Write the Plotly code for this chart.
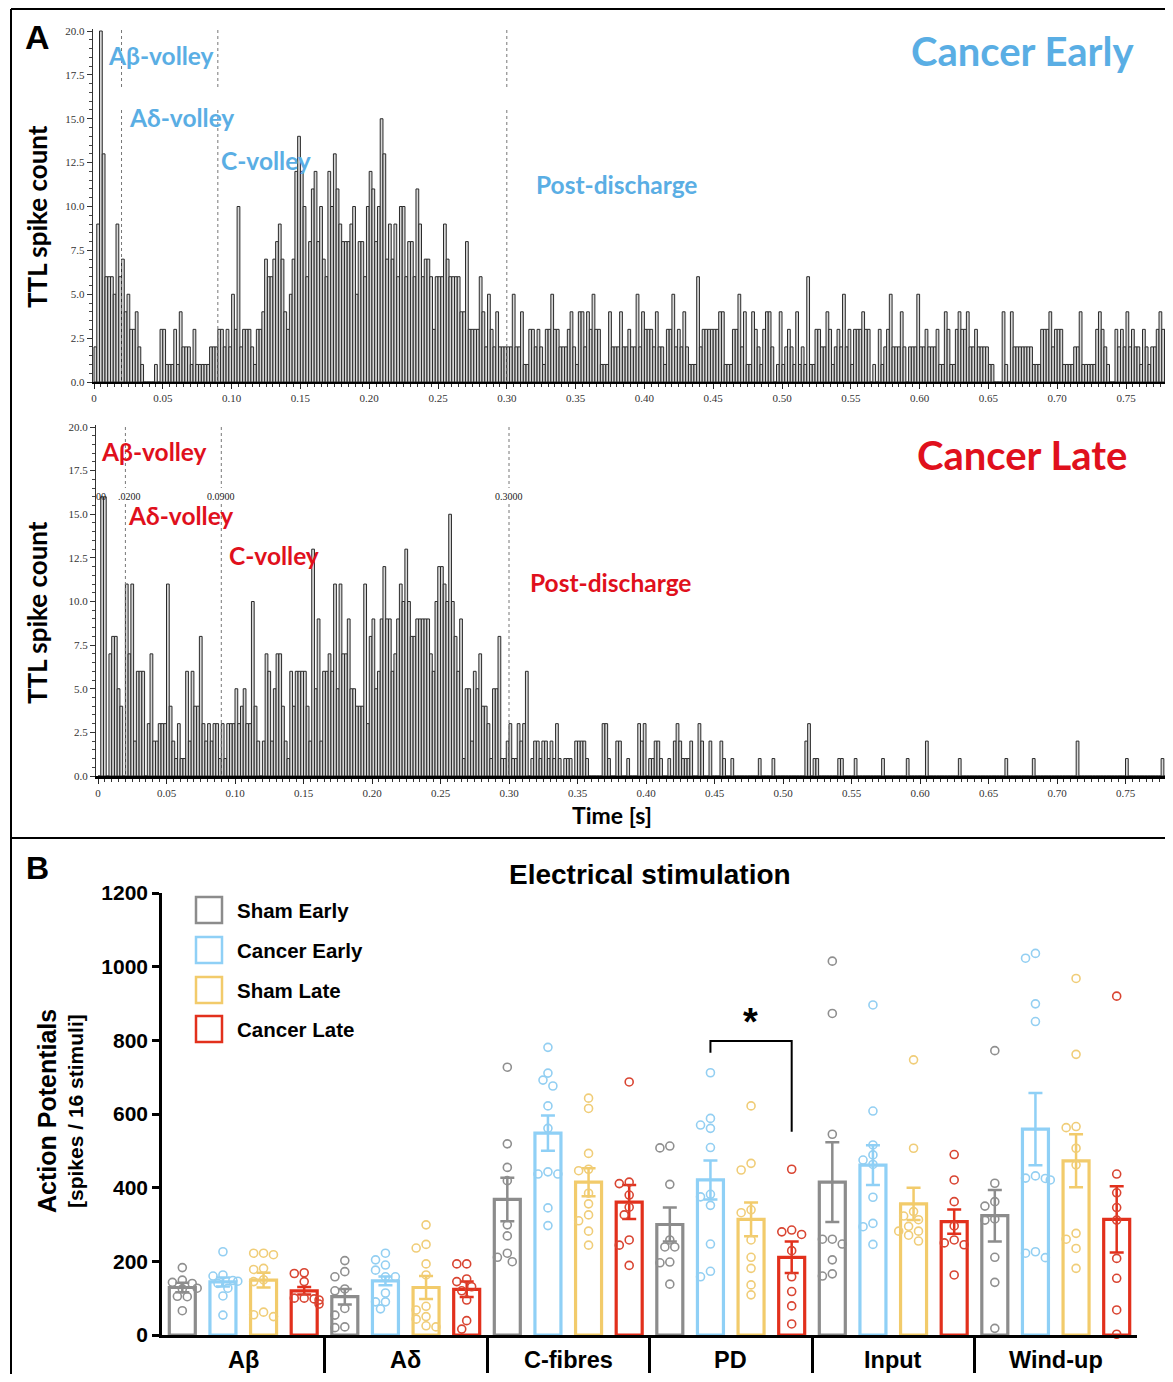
import plotly.graph_objects as go

W, H = 1173, 1382
PAGE_OFFSET = 8  # default body margin of the html page
FIG_W, FIG_H = W - 2 * PAGE_OFFSET, H - 2 * PAGE_OFFSET
BIN_WIDTH = 0.002

# ---------------- Panel A data: TTL spike counts per 2 ms bin ----------------
cancer_early_counts = (
    [2, 9, 20, 13, 6, 6, 6, 5, 9, 6, 7, 4, 5, 3, 3, 4, 2, 1, 0, 0, 0, 0, 1, 0, 3]
    + [3, 1, 1, 1, 3, 1, 4, 2, 2, 2, 1, 3, 1, 1, 1, 1, 1, 2, 2, 2, 3, 3, 2, 3, 2]
    + [5, 3, 10, 2, 3, 3, 3, 2, 1, 3, 3, 4, 7, 6, 6, 7, 8, 9, 7, 4, 3, 5, 7, 12, 14]
    + [12, 10, 6, 8, 11, 12, 8, 10, 7, 6, 12, 10, 13, 11, 9, 8, 8, 8, 9, 10, 5, 8, 8, 6, 10]
    + [12, 11, 8, 10, 15, 13, 7, 9, 7, 9, 6, 10, 10, 6, 8, 8, 6, 11, 9, 6, 7, 7, 6, 3, 6]
    + [6, 6, 9, 7, 6, 6, 6, 6, 4, 4, 8, 3, 3, 3, 3, 6, 4, 2, 5, 3, 2, 4, 2, 2, 2]
    + [2, 2, 5, 2, 2, 4, 1, 1, 3, 3, 2, 3, 2, 1, 3, 3, 5, 3, 3, 2, 2, 2, 3, 4, 2]
    + [1, 4, 4, 2, 4, 3, 5, 3, 3, 1, 1, 1, 4, 2, 2, 2, 4, 2, 2, 3, 2, 2, 5, 2, 4]
    + [3, 3, 3, 2, 4, 2, 2, 1, 3, 3, 5, 2, 3, 2, 4, 2, 1, 1, 1, 6, 2, 3, 3, 3, 3]
    + [3, 3, 4, 4, 1, 1, 1, 3, 3, 5, 2, 4, 1, 1, 4, 3, 2, 1, 3, 4, 4, 2, 0, 1, 4]
    + [1, 2, 3, 2, 1, 4, 1, 2, 1, 6, 1, 1, 3, 3, 2, 2, 4, 3, 1, 2, 3, 2, 5, 2, 3]
    + [1, 3, 3, 3, 4, 3, 3, 0, 1, 0, 3, 1, 2, 3, 5, 2, 2, 2, 4, 2, 0, 2, 2, 2, 5]
    + [2, 2, 3, 2, 2, 2, 3, 1, 1, 4, 3, 1, 1, 3, 4, 3, 3, 4, 2, 2, 3, 2, 2, 2, 2]
    + [1, 1, 0, 0, 0, 4, 1, 0, 4, 2, 2, 2, 2, 2, 2, 2, 1, 1, 1, 3, 3, 3, 4, 2, 3]
    + [3, 3, 1, 1, 1, 1, 2, 2, 4, 1, 1, 1, 1, 1, 3, 4, 3, 2, 1, 0, 0, 3, 2, 3, 2]
    + [4, 2, 3, 2, 2, 1, 3, 2, 1, 2, 2, 3, 4, 3, 3, 3, 2]
)

cancer_late_counts = (
    [0, 16, 16, 0, 7, 8, 8, 5, 4, 0, 11, 7, 11, 2, 6, 6, 6, 0, 3, 7, 2, 2, 3, 3, 3]
    + [11, 4, 2, 1, 3, 1, 1, 6, 2, 6, 4, 4, 8, 3, 2, 3, 2, 3, 3, 1, 3, 1, 3, 3, 3]
    + [5, 3, 4, 5, 3, 3, 10, 4, 2, 0, 2, 7, 6, 2, 5, 7, 7, 4, 2, 1, 6, 4, 6, 6, 6]
    + [6, 4, 2, 13, 5, 9, 2, 6, 6, 7, 6, 11, 5, 11, 7, 7, 9, 5, 5, 4, 4, 4, 11, 3, 8]
    + [9, 5, 6, 9, 12, 9, 9, 6, 7, 9, 11, 10, 13, 10, 8, 8, 9, 9, 9, 9, 9, 7, 6, 10, 12]
    + [12, 11, 10, 15, 10, 8, 6, 9, 1, 5, 5, 2, 6, 5, 7, 4, 4, 3, 1, 5, 5, 8, 1, 1, 2]
    + [3, 1, 1, 3, 2, 3, 6, 0, 1, 2, 2, 1, 2, 2, 1, 2, 1, 3, 1, 0, 1, 1, 1, 0, 2]
    + [2, 2, 2, 1, 0, 0, 0, 0, 0, 3, 3, 1, 0, 0, 2, 2, 0, 0, 1, 0, 0, 0, 3, 2, 3]
    + [0, 1, 1, 2, 2, 1, 0, 0, 1, 0, 2, 3, 2, 1, 1, 1, 2, 0, 0, 3, 2, 0, 0, 2, 0]
    + [0, 0, 2, 1, 0, 0, 1, 0, 0, 0, 0, 0, 0, 0, 0, 0, 1, 0, 0, 0, 0, 1, 0, 0, 0]
    + [0, 0, 0, 0, 0, 0, 0, 0, 2, 3, 0, 1, 1, 0, 0, 0, 0, 0, 0, 0, 1, 1, 0, 0, 0]
    + [0, 1, 0, 0, 0, 0, 0, 0, 0, 0, 0, 1, 0, 0, 0, 0, 0, 0, 0, 0, 1, 0, 0, 0, 0]
    + [0, 0, 2, 0, 0, 0, 0, 0, 0, 0, 0, 0, 0, 0, 1, 0, 0, 0, 0, 0, 0, 0, 0, 0, 0]
    + [0, 0, 0, 0, 0, 0, 1, 0, 0, 0, 0, 0, 0, 0, 0, 0, 1, 0, 0, 0, 0, 0, 0, 0, 0]
    + [0, 0, 0, 0, 0, 0, 0, 2, 0, 0, 0, 0, 0, 0, 0, 0, 0, 0, 0, 0, 0, 0, 0, 0, 0]
    + [1, 0, 0, 0, 0, 0, 0, 0, 0, 0, 0, 0, 0, 1, 0, 0, 0]
)

hist_xtick_vals = [0, 0.05, 0.10, 0.15, 0.20, 0.25, 0.30, 0.35, 0.40, 0.45, 0.50,
                   0.55, 0.60, 0.65, 0.70, 0.75]
hist_xtick_text = ["0", "0.05", "0.10", "0.15", "0.20", "0.25", "0.30", "0.35", "0.40",
                   "0.45", "0.50", "0.55", "0.60", "0.65", "0.70", "0.75"]
hist_ytick_vals = [0, 2.5, 5, 7.5, 10, 12.5, 15, 17.5, 20]
hist_ytick_text = ["0.0", "2.5", "5.0", "7.5", "10.0", "12.5", "15.0", "17.5", "20.0"]
window_bounds = [0.02, 0.09, 0.30]
window_bound_labels = [".0200", "0.0900", "0.3000"]

# ---------------- Panel B data ----------------
groups = ["Aβ", "Aδ", "C-fibres", "PD", "Input", "Wind-up"]
series_names = ["Sham Early", "Cancer Early", "Sham Late", "Cancer Late"]

sham_early_mean = [129, 104, 368, 300, 415, 324]
sham_early_sem = [13, 21, 59, 46, 108, 70]
cancer_early_mean = [144, 147, 548, 421, 461, 559]
cancer_early_sem = [12, 12, 48, 53, 54, 98]
sham_late_mean = [149, 129, 415, 314, 356, 473]
sham_late_sem = [20, 31, 38, 46, 44, 72]
cancer_late_mean = [120, 124, 361, 211, 308, 314]
cancer_late_sem = [10, 21, 46, 43, 33, 90]

sham_early_pts = [
    [183, 143, 140, 149, 127, 125, 105, 104, 66],
    [202, 172, 158, 125, 120, 72, 54, 22, 20],
    [727, 519, 455, 419, 299, 269, 222, 211, 199],
    [508, 513, 409, 258, 239, 239, 198, 196, 138],
    [1015, 873, 545, 260, 247, 260, 204, 160, 166],
    [772, 412, 362, 350, 315, 312, 211, 143, 18],
]
cancer_early_pts = [
    [226, 163, 160, 148, 146, 127, 106, 54, 140],
    [222, 204, 190, 176, 158, 158, 114, 90, 90, 71],
    [781, 711, 692, 676, 622, 561, 443, 437, 437, 345, 297],
    [712, 588, 570, 561, 509, 382, 375, 352, 247, 173, 158],
    [896, 608, 516, 489, 475, 463, 374, 303, 294, 246],
    [1036, 1023, 899, 851, 432, 426, 421, 425, 226, 210, 222],
]
sham_late_pts = [
    [222, 218, 222, 181, 178, 150, 145, 62, 50, 55],
    [299, 236, 246, 193, 163, 68, 78, 43, 50, 22, 25],
    [643, 615, 493, 450, 446, 385, 356, 326, 310, 282, 244],
    [622, 466, 448, 340, 332, 258, 211, 181, 136, 109],
    [747, 507, 335, 323, 313, 295, 282, 282, 271, 255],
    [968, 762, 563, 566, 507, 462, 276, 260, 235, 181],
]
cancer_late_pts = [
    [169, 167, 145, 100, 98, 100, 84, 95],
    [193, 193, 152, 145, 131, 95, 39, 16, 120],
    [687, 411, 415, 380, 347, 326, 258, 244, 189],
    [450, 285, 280, 273, 229, 158, 118, 79, 30],
    [490, 421, 362, 296, 258, 250, 245, 163],
    [920, 437, 386, 346, 312, 208, 154, 68, 2],
]
b_ytick_vals = [0, 200, 400, 600, 800, 1000, 1200]

# significance: PD, Cancer Early vs Cancer Late
sig_group = 3
sig_pair = (1, 3)
sig_top, sig_left_end, sig_right_end = 798, 766, 552

# ---------------- styling ----------------
bar_colors = ["#8c8c8c", "#8fd0f6", "#f2cb6b", "#e2301c"]
pt_colors = ["#8f8f8f", "#93cff2", "#f0cd78", "#d94431"]
blue_txt = "#5aaee4"
red_txt = "#e0101c"
SERIF = "Liberation Serif"
SANS = "Liberation Sans"
CAL = "Lato"


def px(x):
    # target-image pixel -> paper fraction (compensating the page body offset)
    return (x - PAGE_OFFSET) / FIG_W


def py(y):
    return 1 - (y - PAGE_OFFSET) / FIG_H


RIGHT_EDGE = PAGE_OFFSET + FIG_W  # last visible pixel column of the figure

fig = go.Figure()

# ---- histograms ----
for counts, xa, ya in [(cancer_early_counts, "x", "y"), (cancer_late_counts, "x2", "y2")]:
    centers = [(i + 0.5) * BIN_WIDTH for i in range(len(counts))]
    fig.add_trace(go.Bar(
        x=centers, y=counts, width=BIN_WIDTH, xaxis=xa, yaxis=ya,
        marker=dict(color="#d6d6d6", line=dict(color="#2a2a2a", width=1)),
        showlegend=False, hoverinfo="skip"))

# ---- panel B bars ----
means = [sham_early_mean, cancer_early_mean, sham_late_mean, cancer_late_mean]
sems = [sham_early_sem, cancer_early_sem, sham_late_sem, cancer_late_sem]
points = [sham_early_pts, cancer_early_pts, sham_late_pts, cancer_late_pts]
SLOT = 0.25
BAR_W = 0.16


def slot_x(g, k):
    return g + (k - 1.5) * SLOT


for k in range(4):
    xs = [slot_x(g, k) for g in range(len(groups))]
    fig.add_trace(go.Bar(
        x=xs, y=means[k], width=BAR_W, xaxis="x3", yaxis="y3",
        marker=dict(color="rgba(255,255,255,0)", line=dict(color=bar_colors[k], width=3.2)),
        error_y=dict(type="data", array=sems[k], color=bar_colors[k], thickness=2.5, width=7),
        showlegend=False, hoverinfo="skip"))

# beeswarm placement of individual points (pixel-space collision check)
PX_PER_X = (1137 - 162) / 6.0
PX_PER_Y = (1335 - 893) / 1200.0
DIAM = 9.0


def swarm(values, center):
    placed = []
    order = sorted(range(len(values)), key=lambda i: -values[i])
    res = [None] * len(values)
    step = DIAM / PX_PER_X * 0.55
    for i in order:
        v = values[i]
        x = center
        for m in [0, -1, 1, -2, 2, -3, 3]:
            x = center + m * step
            ok = True
            for (xp, vp) in placed:
                dx = (x - xp) * PX_PER_X
                dy = (v - vp) * PX_PER_Y
                if dx * dx + dy * dy < (DIAM - 0.5) ** 2:
                    ok = False
                    break
            if ok:
                break
        placed.append((x, v))
        res[i] = x
    return res


for k in range(4):
    xs, ys = [], []
    for g in range(len(groups)):
        vals = points[k][g]
        xs += swarm(vals, slot_x(g, k))
        ys += vals
    fig.add_trace(go.Scatter(
        x=xs, y=ys, mode="markers", xaxis="x3", yaxis="y3", cliponaxis=False,
        marker=dict(symbol="circle-open", size=8, color=pt_colors[k], line=dict(width=1.6)),
        showlegend=False, hoverinfo="skip"))

# significance bracket
xl = slot_x(sig_group, sig_pair[0])
xr = slot_x(sig_group, sig_pair[1])
fig.add_trace(go.Scatter(
    x=[xl, xl, xr, xr], y=[sig_left_end, sig_top, sig_top, sig_right_end],
    mode="lines", line=dict(color="black", width=2), xaxis="x3", yaxis="y3",
    showlegend=False, hoverinfo="skip"))

# ---------------- axes ----------------
tickfont_h = dict(family=SERIF, size=11, color="#333")
top_x0, top_scale = 94.0, 1376.0
bot_x0, bot_scale = 98.0, 1370.0
top_rng = [(92.6 - top_x0) / top_scale, (RIGHT_EDGE - top_x0) / top_scale]
bot_rng = [(96.0 - bot_x0) / bot_scale, (RIGHT_EDGE - bot_x0) / bot_scale]

common_hx = dict(tickvals=hist_xtick_vals, ticktext=hist_xtick_text, ticks="outside",
                 ticklen=5, tickwidth=1, tickcolor="#222", showline=True, linecolor="black",
                 linewidth=2, tickfont=tickfont_h, showgrid=False, zeroline=False,
                 automargin=False,
                 minor=dict(dtick=0.005, ticklen=3, ticks="outside", tickcolor="#333", tickwidth=1))
common_hy = dict(tickvals=hist_ytick_vals, ticktext=hist_ytick_text, ticks="outside",
                 ticklen=5, tickwidth=1, tickcolor="#333", showline=True, linecolor="#333",
                 linewidth=1, tickfont=tickfont_h, showgrid=False, zeroline=False,
                 automargin=False,
                 minor=dict(dtick=0.5, ticklen=3, ticks="outside", tickcolor="#444", tickwidth=1),
                 range=[0, 20.1])

fig.update_layout(
    width=FIG_W, height=FIG_H, margin=dict(l=0, r=0, t=0, b=0, autoexpand=False),
    paper_bgcolor="white", plot_bgcolor="white", barmode="overlay", showlegend=False,
    xaxis=dict(domain=[px(92.6), 1.0], range=top_rng, anchor="y", **common_hx),
    yaxis=dict(domain=[py(382), py(382 - 20.1 * 17.55)], anchor="x", **common_hy),
    xaxis2=dict(domain=[px(96.0), 1.0], range=bot_rng, anchor="y2",
                **{**common_hx, "linewidth": 2.5}),
    yaxis2=dict(domain=[py(776), py(776 - 20.1 * 17.45)], anchor="x2", **common_hy),
    xaxis3=dict(domain=[px(162), px(1137)], range=[-0.5, 5.5], anchor="y3",
                tickvals=[g + 0.5 for g in range(len(groups) - 1)], ticks="outside",
                ticklen=35, tickwidth=2.5, tickcolor="black", showticklabels=False,
                showline=True, linecolor="black", linewidth=2.5, showgrid=False,
                zeroline=False, automargin=False),
    yaxis3=dict(domain=[py(1335), py(893)], range=[0, 1200], anchor="x3",
                tickvals=b_ytick_vals, ticktext=["<b>%d</b>" % v for v in b_ytick_vals],
                ticks="outside", ticklen=7, tickwidth=2.5, tickcolor="black",
                showline=True, linecolor="black", linewidth=2.5,
                tickfont=dict(family=SANS, size=21, color="black"),
                showgrid=False, zeroline=False, automargin=False),
)

shapes = []
# frames
for (x0, y0, x1, y1) in [(11, 9, RIGHT_EDGE, 9), (11, 9, 11, H), (11, 838, RIGHT_EDGE, 838)]:
    shapes.append(dict(type="line", xref="paper", yref="paper", x0=px(x0), y0=py(y0),
                       x1=px(x1), y1=py(y1), line=dict(color="black", width=2)))
# window boundary dotted lines
for xa, segs in [("x", [(30, 88), (110, 382)]), ("x2", [(427, 488), (504, 776)])]:
    for b in window_bounds:
        for (ya, yb) in segs:
            shapes.append(dict(type="line", xref=xa, yref="paper", x0=b, x1=b,
                               y0=py(ya), y1=py(yb),
                               line=dict(color="#777", width=1, dash="dot")))
# legend boxes
legend_rows = [910, 950, 990, 1029]
for k, yc in enumerate(legend_rows):
    shapes.append(dict(type="rect", xref="paper", yref="paper", x0=px(196), x1=px(222),
                       y0=py(yc - 13), y1=py(yc + 13),
                       line=dict(color=bar_colors[k], width=2.5), fillcolor="white"))

ann = []


def add_text(text, x, y, size, color="black", family=SANS, xanchor="center",
             yanchor="middle", angle=0, bold=True):
    t = "<b>%s</b>" % text if bold else text
    ann.append(dict(text=t, x=px(x), y=py(y), xref="paper", yref="paper", showarrow=False,
                    xanchor=xanchor, yanchor=yanchor, textangle=angle,
                    font=dict(family=family, size=size, color=color)))


# panel letters
add_text("A", 37, 37, 34)
add_text("B", 37, 868, 32)

# panel A labels
add_text("Cancer Early", 1136, 51, 40, blue_txt, CAL, xanchor="right")
add_text("Aβ-volley", 106, 55, 24.5, blue_txt, CAL, xanchor="left")
add_text("Aδ-volley", 127, 118, 24.5, blue_txt, CAL, xanchor="left")
add_text("C-volley", 219, 160, 24.5, blue_txt, CAL, xanchor="left")
add_text("Post-discharge", 534, 185, 24.5, blue_txt, CAL, xanchor="left")

add_text("Cancer Late", 1129, 455, 40, red_txt, CAL, xanchor="right")
add_text("Aβ-volley", 99, 452, 24.5, red_txt, CAL, xanchor="left")
add_text("Aδ-volley", 126, 515, 24.5, red_txt, CAL, xanchor="left")
add_text("C-volley", 227, 555, 24.5, red_txt, CAL, xanchor="left")
add_text("Post-discharge", 528, 582, 24.5, red_txt, CAL, xanchor="left")

add_text("TTL spike count", 37, 217, 26, angle=-90, family=CAL)
add_text("TTL spike count", 37, 613, 26, angle=-90, family=CAL)
add_text("Time [s]", 612, 815, 23, family=CAL)

# boundary value labels on lower histogram
add_text("00", 101, 496, 10, "#222", SERIF, bold=False)
for b, lab in zip(window_bounds, window_bound_labels):
    add_text(lab, bot_x0 + b * bot_scale + (4 if lab.startswith(".") else 0), 496, 10,
             "#222", SERIF, bold=False)

# panel B texts
add_text("Electrical stimulation", 650, 874, 28)
add_text("Action Potentials", 47, 1111, 25, angle=-90)
add_text("[spikes / 16 stimuli]", 75, 1111, 21, angle=-90)
for g, name in enumerate(groups):
    add_text(name, 162 + (g + 0.5) * PX_PER_X, 1360, 23.5)
for k, yc in enumerate(legend_rows):
    add_text(series_names[k], 235, yc, 20.5, xanchor="left")
add_text("*", 750, 1022, 38)

fig.update_layout(shapes=shapes, annotations=ann)
fig.write_html("out.html")
